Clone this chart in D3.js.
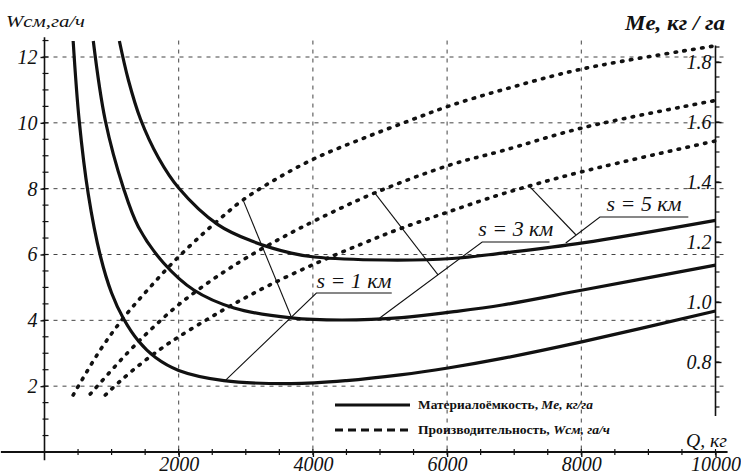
<!DOCTYPE html>
<html lang="ru">
  <head>
    <meta charset="UTF-8" />
    <title>Me и Wсм от Q</title>
    <style>
      body { margin: 0; background: #fff; }
      text { font-family: "Liberation Serif", "DejaVu Serif", serif; fill: #111; }
    </style>
  </head>
  <body>
    <svg id="svg" width="741" height="474"></svg>

    <script src="https://d3js.org/d3.v7.min.js"></script>
    <script>
      // ticks
      const qTicks = [2000, 4000, 6000, 8000, 10000];
      const wTicks = [2, 4, 6, 8, 10, 12];
      const meTicks = [0.8, 1.0, 1.2, 1.4, 1.6, 1.8];

      // материалоёмкость Me, кг/га  [Q, Me]
      const me1 = [[427, 1.87], [517, 1.605], [652, 1.36], [831, 1.155], [1000, 1.03], [1176, 0.945], [1400, 0.87],
        [1655, 0.815], [2000, 0.772], [2674, 0.738], [3678, 0.728], [4500, 0.738], [5300, 0.757], [6013, 0.78],
        [6822, 0.812], [8021, 0.868], [10000, 0.97]];
      const me3 = [[727, 1.87], [906, 1.605], [1176, 1.38], [1400, 1.25], [1775, 1.13], [2225, 1.04], [2824, 0.98],
        [3678, 0.947], [4426, 0.94], [5325, 0.948], [6073, 0.967], [6822, 0.99], [8021, 1.04], [10000, 1.123]];
      const me5 = [[1116, 1.87], [1250, 1.74], [1430, 1.61], [1700, 1.48], [2000, 1.38], [2584, 1.258], [3079, 1.204],
        [3678, 1.163], [4022, 1.15], [5071, 1.14], [6073, 1.145], [6822, 1.163], [8021, 1.197], [10000, 1.272]];

      // производительность Wсм, га/ч  [Q, W]
      const w1 = [[427, 1.73], [831, 3.1], [1176, 4.07], [1535, 4.92], [1925, 5.78], [2329, 6.57], [2629, 7.11],
        [2959, 7.66], [3483, 8.33], [4052, 8.94], [4726, 9.51], [5430, 10.06], [6043, 10.52], [6822, 11.0],
        [8021, 11.64], [10000, 12.34]];
      const w3 = [[682, 1.76], [1236, 3.01], [1580, 3.71], [1925, 4.35], [2284, 4.92], [2674, 5.47], [3034, 5.93],
        [3528, 6.5], [4082, 7.08], [4921, 7.87], [6043, 8.72], [6822, 9.15], [8021, 9.85], [10000, 10.68]];
      const w5 = [[906, 1.73], [1131, 2.16], [1430, 2.67], [1730, 3.13], [2000, 3.5], [2434, 4.04], [2824, 4.5],
        [3333, 5.05], [4022, 5.71], [4726, 6.32], [5295, 6.78], [6013, 7.29], [6822, 7.84], [8000, 8.51], [10000, 9.45]];

      // подписи s: полка [Q1, Q2, W], выноска к кривой [Q, W], линия от Wсм [[Q, W], [Q, W]]
      const sLabels = ["s = 1 км", "s = 3 км", "s = 5 км"];
      const shelves = [[4052, 5175, 4.83], [6523, 7526, 6.38], [8277, 9595, 7.14]];
      const pointers = [[2704, 2.19], [4996, 4.07], [7768, 6.35]];
      const links = [
        [[2959, 7.66], [3678, 4.1]],
        [[4921, 7.87], [5865, 5.38]],
        [[7228, 8.07], [7918, 6.6]],
      ];

      const svg = d3.select("#svg");
      const x = d3.scaleLinear().domain([0, 10000]).range([44.5, 715.5]);
      const yW = d3.scaleLinear().domain([0, 12]).range([452, 57]);
      const yMe = d3.scaleLinear().domain([0.8, 1.8]).range([362, 62]);

      svg.append("clipPath").attr("id", "plot")
        .append("rect").attr("x", x(0)).attr("y", yW(12.55))
        .attr("width", x(10000) - x(0)).attr("height", yW(0) - yW(12.55));

      // сетка
      const grid = svg.append("g").attr("stroke", "#444").attr("stroke-width", 1).attr("stroke-dasharray", "4 5");
      grid.selectAll(".h").data(wTicks).enter().append("line")
        .attr("x1", x(0)).attr("x2", x(10000) + 11)
        .attr("y1", (d) => yW(d)).attr("y2", (d) => yW(d));
      grid.selectAll(".v").data(qTicks.slice(0, 4)).enter().append("line")
        .attr("x1", (d) => x(d)).attr("x2", (d) => x(d))
        .attr("y1", yW(12.5)).attr("y2", yW(0));

      // оси
      const axes = svg.append("g").attr("stroke", "#111").attr("stroke-width", 1.6);
      axes.append("line").attr("x1", x(-650)).attr("x2", x(10180)).attr("y1", yW(0)).attr("y2", yW(0)).attr("stroke-width", 2);
      axes.append("line").attr("x1", x(0)).attr("x2", x(0)).attr("y1", yW(12.6)).attr("y2", yW(-0.25));
      axes.append("line").attr("x1", x(10000)).attr("x2", x(10000)).attr("y1", yMe(1.855)).attr("y2", yMe(0.62));

      const minor = svg.append("g").attr("stroke", "#111").attr("stroke-width", 1.2);
      minor.selectAll(".ml").data(d3.range(1, 26).map((i) => i * 0.5)).enter().append("line")
        .attr("x1", x(0) - 2).attr("x2", x(0) + 4).attr("y1", (d) => yW(d)).attr("y2", (d) => yW(d));
      minor.selectAll(".mb").data(d3.range(1, 21).map((i) => i * 500)).enter().append("line")
        .attr("x1", (d) => x(d)).attr("x2", (d) => x(d)).attr("y1", yW(0) - 3).attr("y2", yW(0) + 3);
      minor.selectAll(".mr").data(d3.range(13, 38).map((i) => i * 0.05)).enter().append("line")
        .attr("x1", x(10000)).attr("x2", x(10000) + 4).attr("y1", (d) => yMe(d)).attr("y2", (d) => yMe(d));

      const leftAxis = svg.append("g").attr("transform", `translate(${x(0)},0)`)
        .call(d3.axisLeft(yW).tickValues(wTicks).tickSizeOuter(0).tickSizeInner(4).tickPadding(3));
      const bottomAxis = svg.append("g").attr("transform", `translate(0,${yW(0)})`)
        .call(d3.axisBottom(x).tickValues(qTicks).tickFormat(d3.format("d"))
          .tickSizeOuter(0).tickSizeInner(5).tickPadding(3));
      const rightAxis = svg.append("g").attr("transform", `translate(${x(10000)},0)`)
        .call(d3.axisLeft(yMe).tickValues(meTicks).tickSizeOuter(0).tickSizeInner(-6).tickPadding(4)
          .tickFormat(d3.format(".1f")));
      [leftAxis, bottomAxis, rightAxis].forEach((g) => {
        g.select(".domain").remove();
        g.selectAll("line").attr("stroke", "#111").attr("stroke-width", 1.4);
        g.selectAll("text").attr("font-size", 20).attr("font-style", "italic").attr("fill", "#111");
      });
      bottomAxis.selectAll("text").attr("dy", "0.55em");

      // кривые
      const meLine = d3.line().x((d) => x(d[0])).y((d) => yMe(d[1])).curve(d3.curveCatmullRom.alpha(0.5));
      const wLine = d3.line().x((d) => x(d[0])).y((d) => yW(d[1])).curve(d3.curveCatmullRom.alpha(0.5));

      svg.append("g").attr("clip-path", "url(#plot)")
        .selectAll("path").data([me1, me3, me5]).enter().append("path")
        .attr("d", meLine).attr("fill", "none").attr("stroke", "#111").attr("stroke-width", 3.2);

      svg.append("g").selectAll("path").data([w1, w3, w5]).enter().append("path")
        .attr("d", wLine).attr("fill", "none").attr("stroke", "#111").attr("stroke-width", 3.6)
        .attr("stroke-linecap", "round").attr("stroke-dasharray", "1.5 7.5");

      // выноски
      const ann = svg.append("g").attr("stroke", "#111").attr("stroke-width", 1.1).attr("fill", "none");
      shelves.forEach((s, i) => {
        ann.append("polyline").attr("points", [
          [x(s[1]), yW(s[2])], [x(s[0]), yW(s[2])], [x(pointers[i][0]), yW(pointers[i][1])],
        ].map((p) => p.join(",")).join(" "));
        ann.append("line")
          .attr("x1", x(links[i][0][0])).attr("y1", yW(links[i][0][1]))
          .attr("x2", x(links[i][1][0])).attr("y2", yW(links[i][1][1]));
        svg.append("text").attr("x", (x(s[0]) + x(s[1])) / 2).attr("y", yW(s[2]) - 5.5)
          .attr("text-anchor", "middle").attr("font-size", 22).attr("font-style", "italic")
          .attr("textLength", 75).attr("lengthAdjust", "spacingAndGlyphs").text(sLabels[i]);
      });

      // подписи осей
      svg.append("text").attr("x", 6).attr("y", 27).attr("font-size", 17).attr("font-style", "italic")
        .attr("textLength", 79).attr("lengthAdjust", "spacingAndGlyphs").text("Wсм,га/ч");
      svg.append("text").attr("x", 625).attr("y", 30).attr("font-size", 22).attr("font-style", "italic")
        .attr("font-weight", "bold").attr("textLength", 100).attr("lengthAdjust", "spacingAndGlyphs")
        .text("Me,  кг / га");
      svg.append("text").attr("x", 686).attr("y", 447).attr("font-size", 18).attr("font-style", "italic")
        .attr("textLength", 41).attr("lengthAdjust", "spacingAndGlyphs").text("Q, кг");

      // легенда
      const legend = svg.append("g");
      legend.append("line").attr("x1", 335).attr("x2", 410).attr("y1", 405).attr("y2", 405)
        .attr("stroke", "#111").attr("stroke-width", 3);
      legend.append("line").attr("x1", 335).attr("x2", 412).attr("y1", 430).attr("y2", 430)
        .attr("stroke", "#111").attr("stroke-width", 3).attr("stroke-dasharray", "8 5");
      const t1 = legend.append("text").attr("x", 418).attr("y", 409).attr("font-size", 12).attr("font-weight", "bold")
        .attr("textLength", 175).attr("lengthAdjust", "spacingAndGlyphs");
      t1.append("tspan").text("Материалоёмкость, ");
      t1.append("tspan").attr("font-style", "italic").text("Me, кг/га");
      const t2 = legend.append("text").attr("x", 418).attr("y", 434).attr("font-size", 12).attr("font-weight", "bold")
        .attr("textLength", 192).attr("lengthAdjust", "spacingAndGlyphs");
      t2.append("tspan").text("Производительность, ");
      t2.append("tspan").attr("font-style", "italic").text("Wсм, га/ч");
    </script>
  </body>
</html>
